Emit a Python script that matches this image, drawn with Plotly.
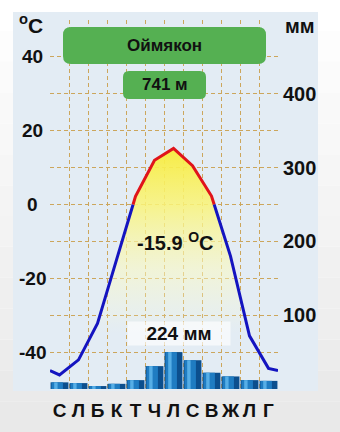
import plotly.graph_objects as go

# ---------------- data ----------------
months = ['С', 'Л', 'Б', 'К', 'Т', 'Ч', 'Л', 'С', 'В', 'Ж', 'Л', 'Г']
temps = [-46.2, -42.1, -32.2, -15.0, 2.2, 12.0, 15.2, 10.5, 2.3, -14.0, -35.6, -44.4]
edge_temp = -45.0          # value of the curve at the left/right frame edges
precip = [9, 8, 4, 7, 12, 31, 50, 39, 22, 17, 12, 11]
temp_ticks = [40, 20, 0, -20, -40]
precip_ticks = [100, 200, 300, 400]
station = 'Оймякон'
altitude = '741 м'
mean_temp = '-15.9 <sup>O</sup>C'
total_precip = '224 мм'

# ---------------- geometry helpers ----------------
W, H = 340, 432
L, R, T, B = 50, 62, 20, 43
PW, PH = W - L - R, H - T - B


def px(xp):
    return (xp - L) / PW


def py(yp):
    return (H - B - yp) / PH


FONT = 'Liberation Sans, Arial, sans-serif'
GRID = 'rgb(204,166,92)'

xm = list(range(12))
xs = [-0.5] + xm + [11.5]
ys = [edge_temp] + temps + [edge_temp]

# split curve into below-zero (blue) and above-zero (red) parts
segments = []  # list of (color, xlist, ylist)
cur_x, cur_y = [xs[0]], [ys[0]]
cur_pos = ys[0] >= 0
for i in range(1, len(xs)):
    x0, y0, x1, y1 = xs[i - 1], ys[i - 1], xs[i], ys[i]
    pos = y1 >= 0
    if pos != cur_pos:
        xc = x0 + (0 - y0) / (y1 - y0) * (x1 - x0)
        cur_x.append(xc); cur_y.append(0)
        segments.append(('#e0141a' if cur_pos else '#1414c0', cur_x, cur_y))
        cur_x, cur_y = [xc], [0]
        cur_pos = pos
    cur_x.append(x1); cur_y.append(y1)
segments.append(('#e0141a' if cur_pos else '#1414c0', cur_x, cur_y))

fig = go.Figure()

# baseline + yellow gradient fill under the curve
fig.add_trace(go.Scatter(x=xs, y=[-50] * len(xs), mode='lines', line=dict(width=0),
                         showlegend=False, hoverinfo='skip'))
fig.add_trace(go.Scatter(
    x=xs, y=ys, mode='lines', line=dict(width=0), fill='tonexty',
    fillgradient=dict(type='vertical',
                      colorscale=[[0, 'rgba(255,255,210,0)'],
                                  [0.35, 'rgba(252,250,190,0.55)'],
                                  [0.7, 'rgba(250,244,120,0.85)'],
                                  [1, 'rgba(248,236,60,0.95)']],
                      start=-35, stop=15),
    showlegend=False, hoverinfo='skip'))

for col, sx, sy in segments:
    fig.add_trace(go.Scatter(x=sx, y=sy, mode='lines', line=dict(color=col, width=3),
                             showlegend=False, hoverinfo='skip'))

# precipitation bars (cylinder look via overlaid bars)
for w, off, col in [(0.94, -0.47, '#0c4f8e'), (0.6, -0.42, '#1f7cc2'), (0.18, -0.28, '#56aee6')]:
    fig.add_trace(go.Bar(x=xm, y=precip, width=w, offset=off, yaxis='y2',
                         marker=dict(color=col, line=dict(width=0)),
                         showlegend=False, hoverinfo='skip'))

# ---------------- shapes ----------------
shapes = []
# page gradient (white top -> grey bottom)
n = 14
for i in range(n):
    g = int(255 - 22 * (i / (n - 1)))
    shapes.append(dict(type='rect', xref='paper', yref='paper', layer='below',
                       x0=px(0), x1=px(W), y0=py(H * (i + 1) / n), y1=py(H * i / n),
                       fillcolor=f'rgb({g},{g},{g})', line=dict(width=0)))
# light-blue panel
shapes.append(dict(type='rect', xref='paper', yref='paper', layer='below',
                   x0=px(13), x1=px(318), y0=py(391), y1=py(12),
                   fillcolor='#e3ecf4', line=dict(width=0)))


def rrect(x0, y0, x1, y1, r, color):
    X = lambda v: px(v)
    Y = lambda v: py(v)
    p = (f'M {X(x0 + r)},{Y(y0)} L {X(x1 - r)},{Y(y0)} Q {X(x1)},{Y(y0)} {X(x1)},{Y(y0 + r)} '
         f'L {X(x1)},{Y(y1 - r)} Q {X(x1)},{Y(y1)} {X(x1 - r)},{Y(y1)} '
         f'L {X(x0 + r)},{Y(y1)} Q {X(x0)},{Y(y1)} {X(x0)},{Y(y1 - r)} '
         f'L {X(x0)},{Y(y0 + r)} Q {X(x0)},{Y(y0)} {X(x0 + r)},{Y(y0)} Z')
    return dict(type='path', xref='paper', yref='paper', path=p, layer='above',
                fillcolor=color, line=dict(width=0))


shapes.append(rrect(63, 27, 266, 64, 8, '#55b052'))
shapes.append(rrect(123, 71, 206, 99, 6, '#55b052'))

# ---------------- annotations ----------------
ann = []
bold = lambda s: dict(family=FONT, size=s, color='#111111', weight='bold')


def note(xp, yp, text, size, **kw):
    d = dict(x=px(xp), y=py(yp), xref='paper', yref='paper', text=text, showarrow=False,
             xanchor='center', yanchor='middle', font=bold(size))
    d.update(kw)
    return d


for v in temp_ticks:
    ann.append(dict(x=px(32), xref='paper', y=v, yref='y', text=str(v), showarrow=False,
                    xanchor='center', yanchor='middle', font=bold(19)))
ann.append(note(31, 24, '<sup>o</sup>C', 21))
ann.append(note(300, 26, 'мм', 20))
ann.append(note(164.5, 45.5, station, 17))
ann.append(note(164.5, 85, altitude, 17))
ann.append(note(175, 241, mean_temp, 20))
ann.append(note(179, 333, total_precip, 19, bgcolor='rgba(255,255,255,0.65)',
                width=100, height=21))

fig.update_layout(
    width=W, height=H, margin=dict(l=L, r=R, t=T, b=B),
    paper_bgcolor='white', plot_bgcolor='rgba(0,0,0,0)',
    barmode='overlay', shapes=shapes, annotations=ann,
    xaxis=dict(range=[-0.5, 11.5], tickmode='array', tickvals=xm, ticktext=months,
               ticks='', showgrid=False, zeroline=False, showline=False,
               ticklabelstandoff=8,
               tickfont=dict(family=FONT, size=19, color='#111111', weight='bold'),
               minor=dict(tickmode='array', tickvals=[i - 0.5 for i in range(13)],
                          showgrid=True, gridcolor=GRID, griddash='4px,3px',
                          gridwidth=1.2, ticks='')),
    yaxis=dict(range=[-50, 50], tickmode='array', tickvals=list(range(-40, 60, 10)),
               showticklabels=False, ticks='', showgrid=True, gridcolor=GRID,
               griddash='4px,3px', gridwidth=1.2, zeroline=False, showline=False),
    yaxis2=dict(range=[0, 500], overlaying='y', side='right', tickmode='array',
                tickvals=precip_ticks, ticks='', showgrid=False, zeroline=False,
                showline=False, ticklabelstandoff=4,
                tickfont=dict(family=FONT, size=20, color='#111111', weight='bold')),
)

fig.write_html('out.html')
